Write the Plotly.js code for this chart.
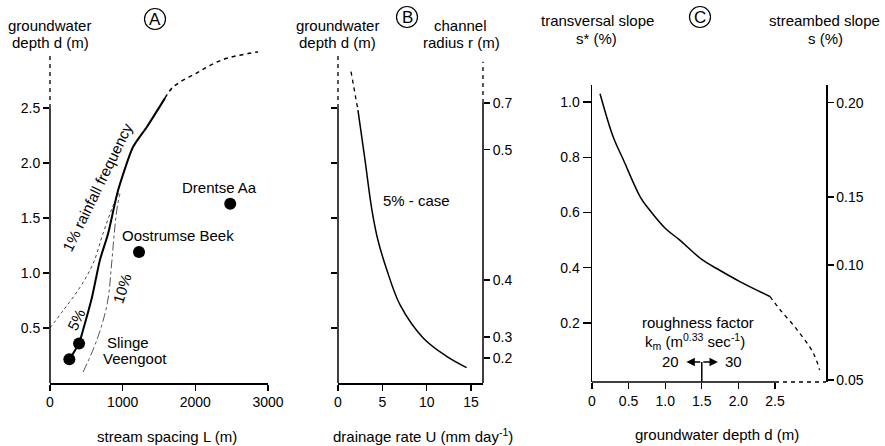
<!DOCTYPE html>
<html><head><meta charset="utf-8">
<script src="https://cdn.plot.ly/plotly-3.0.1.min.js"></script>
<style>html,body{margin:0;padding:0;background:#fff}#chart{width:885px;height:446px}</style>
</head><body><div id="chart"></div>
<script>
// ---------- Panel A: groundwater depth vs stream spacing ----------
const stationNames = ['Drentse Aa', 'Oostrumse Beek', 'Slinge', 'Veengoot'];
const stationL = [2480, 1225, 400, 266];
const stationD = [1.63, 1.19, 0.36, 0.215];
const curve5L = [266, 400, 454, 578, 688, 800, 936, 1142, 1335, 1583];
const curve5D = [0.215, 0.36, 0.48, 0.78, 1.12, 1.36, 1.75, 2.145, 2.33, 2.59];
const curve5ExtL = [1583, 1693, 2023, 2380, 2862];
const curve5ExtD = [2.59, 2.69, 2.82, 2.94, 3.01];
const curve1L = [0, 183, 413, 596, 730, 850, 963];
const curve1D = [0.5, 0.66, 0.87, 1.09, 1.36, 1.58, 1.75];
const curve10L = [456, 650, 790, 850, 890, 930, 963];
const curve10D = [0.1, 0.4, 0.73, 1.1, 1.4, 1.62, 1.72];
const ticksL = [0, 1000, 2000, 3000];
const ticksD = [0.5, 1.0, 1.5, 2.0, 2.5];
const ticksDText = ['0.5', '1.0', '1.5', '2.0', '2.5'];

// ---------- Panel B: groundwater depth vs drainage rate ----------
const rateU = [2.25, 3.04, 3.83, 4.5, 5.5, 7.0, 9.6, 12.3, 14.5];
const rateD = [2.48, 2.03, 1.57, 1.3, 1.03, 0.71, 0.41, 0.24, 0.14];
const rateExtU = [1.47, 2.25];
const rateExtD = [2.83, 2.48];
const ticksU = [0, 5, 10, 15];
const radiusLabels = ['0.7', '0.5', '0.4', '0.3', '0.2'];
const radiusAtDepth = [2.545, 2.12, 0.936, 0.418, 0.227];

// ---------- Panel C: transversal slope vs groundwater depth ----------
const depthC = [0.11, 0.29, 0.43, 0.66, 0.79, 1.0, 1.2, 1.5, 1.75, 2.02, 2.43];
const slopeC = [1.03, 0.873, 0.79, 0.656, 0.608, 0.543, 0.50, 0.43, 0.39, 0.35, 0.296];
const depthCExt = [2.43, 2.57, 2.80, 3.02, 3.11];
const slopeCExt = [0.296, 0.248, 0.176, 0.093, 0.03];
const ticksDepthC = [0, 0.5, 1.0, 1.5, 2.0, 2.5];
const ticksDepthCText = ['0', '0.5', '1.0', '1.5', '2.0', '2.5'];
const ticksSlope = [0.2, 0.4, 0.6, 0.8, 1.0];
const ticksSlopeText = ['0.2', '0.4', '0.6', '0.8', '1.0'];
const streambedLabels = ['0.20', '0.15', '0.10', '0.05'];
const streambedAtSlope = [0.997, 0.656, 0.41, -0.006];

// ---------- layout helpers ----------
const W = 885, H = 446;
const px = x => x / W;
const py = y => 1 - y / H;
const FONT = '"Liberation Sans", Arial, Helvetica, sans-serif';
const BLACK = '#000';
const hidden = {color: 'rgba(0,0,0,0)', width: 0};

const traces = [
  // Panel A
  {x: curve1L, y: curve1D, xaxis: 'x', yaxis: 'y', mode: 'lines', line: {color: '#444', width: 1, dash: 'dot', shape: 'spline'}},
  {x: curve10L, y: curve10D, xaxis: 'x', yaxis: 'y', mode: 'lines', line: {color: '#555', width: 1, dash: 'dashdot', shape: 'spline'}},
  {x: curve5L, y: curve5D, xaxis: 'x', yaxis: 'y', mode: 'lines', line: {color: BLACK, width: 2, shape: 'spline', smoothing: 0.6}},
  {x: curve5ExtL, y: curve5ExtD, xaxis: 'x', yaxis: 'y', mode: 'lines', line: {color: BLACK, width: 1.5, dash: '4px,4px', shape: 'spline'}},
  {x: stationL, y: stationD, xaxis: 'x', yaxis: 'y', mode: 'markers', marker: {color: BLACK, size: 12}},
  // Panel B
  {x: rateU, y: rateD, xaxis: 'x2', yaxis: 'y2', mode: 'lines', line: {color: BLACK, width: 1.5, shape: 'spline'}},
  {x: rateExtU, y: rateExtD, xaxis: 'x2', yaxis: 'y2', mode: 'lines', line: {color: BLACK, width: 1.3, dash: '4px,4px'}},
  {x: rateU, y: rateD, xaxis: 'x2', yaxis: 'y3', mode: 'lines', line: hidden, hoverinfo: 'skip'},
  // Panel C
  {x: depthC, y: slopeC, xaxis: 'x3', yaxis: 'y4', mode: 'lines', line: {color: BLACK, width: 1.5, shape: 'spline'}},
  {x: depthCExt, y: slopeCExt, xaxis: 'x3', yaxis: 'y4', mode: 'lines', line: {color: BLACK, width: 1.3, dash: '4px,4px', shape: 'spline'}},
  {x: depthC, y: slopeC, xaxis: 'x3', yaxis: 'y5', mode: 'lines', line: hidden, hoverinfo: 'skip'}
];

const axBase = {
  showgrid: false, zeroline: false, ticks: 'outside', ticklen: 6, tickwidth: 1.3,
  tickcolor: BLACK, tickfont: {family: FONT, size: 14, color: BLACK},
  linecolor: BLACK, linewidth: 1.5, fixedrange: true
};
const yDomAB = [py(383), py(42)];
const yDomC = [py(382), py(85)];

const layout = {
  width: W, height: H, margin: {l: 0, r: 0, t: 0, b: 0},
  paper_bgcolor: '#fff', plot_bgcolor: 'rgba(0,0,0,0)', showlegend: false,
  font: {family: FONT, size: 15, color: BLACK},
  xaxis: Object.assign({}, axBase, {domain: [px(50), px(268)], range: [0, 3000], tickvals: ticksL, showline: true, anchor: 'y'}),
  yaxis: Object.assign({}, axBase, {domain: yDomAB, range: [0, 3.1], tickvals: ticksD, ticktext: ticksDText, showline: false, anchor: 'x'}),
  xaxis2: Object.assign({}, axBase, {domain: [px(338), px(483)], range: [0, 16.35], tickvals: ticksU, showline: true, anchor: 'y2'}),
  yaxis2: Object.assign({}, axBase, {domain: yDomAB, range: [0, 3.1], tickvals: ticksD, showticklabels: false, showline: false, anchor: 'x2'}),
  yaxis3: Object.assign({}, axBase, {overlaying: 'y2', side: 'right', anchor: 'x2', range: [0, 3.1], tickvals: radiusAtDepth, ticktext: radiusLabels, showline: false}),
  xaxis3: Object.assign({}, axBase, {domain: [px(592), px(826)], range: [0, 3.197], tickvals: ticksDepthC, ticktext: ticksDepthCText, showline: false, anchor: 'y4'}),
  yaxis4: Object.assign({}, axBase, {domain: yDomC, range: [-0.0136, 1.0615], tickvals: ticksSlope, ticktext: ticksSlopeText, showline: true, anchor: 'x3', ticklen: 8}),
  yaxis5: Object.assign({}, axBase, {overlaying: 'y4', side: 'right', anchor: 'x3', range: [-0.0136, 1.0615], tickvals: streambedAtSlope, ticktext: streambedLabels, showline: true}),
  shapes: [],
  annotations: []
};

const solid = {color: BLACK, width: 1.5};
const dashed = {color: BLACK, width: 1.3, dash: '4px,4px'};
const S = layout.shapes;
// Panel A left axis
S.push({type: 'line', xref: 'x domain', yref: 'y', x0: 0, x1: 0, y0: 0, y1: 2.5, line: solid});
S.push({type: 'line', xref: 'x domain', yref: 'y', x0: 0, x1: 0, y0: 2.5, y1: 2.98, line: dashed});
// Panel B axes
S.push({type: 'line', xref: 'x2 domain', yref: 'y2', x0: 0, x1: 0, y0: 0, y1: 2.5, line: solid});
S.push({type: 'line', xref: 'x2 domain', yref: 'y2', x0: 0, x1: 0, y0: 2.5, y1: 3.0, line: dashed});
S.push({type: 'line', xref: 'x2 domain', yref: 'y2', x0: 1, x1: 1, y0: 0, y1: 2.545, line: solid});
S.push({type: 'line', xref: 'x2 domain', yref: 'y2', x0: 1, x1: 1, y0: 2.545, y1: 2.92, line: dashed});
// Panel C bottom axis
S.push({type: 'line', xref: 'x3', yref: 'y4 domain', x0: 0, x1: 2.5, y0: 0, y1: 0, line: solid});
S.push({type: 'line', xref: 'x3', yref: 'y4 domain', x0: 2.5, x1: 3.197, y0: 0, y1: 0, line: dashed});
S.push({type: 'line', xref: 'x3', yref: 'y4', x0: 1.5, x1: 1.5, y0: -0.0136, y1: 0.059, line: solid});
// circled panel letters
function circle(cx, cy, r) {
  S.push({type: 'circle', xref: 'paper', yref: 'paper', x0: px(cx - r), x1: px(cx + r), y0: py(cy + r), y1: py(cy - r), line: {color: BLACK, width: 1.2}});
}
circle(155, 19, 10.5);
circle(407, 17, 10.5);
circle(700, 17, 10.5);

const A = layout.annotations;
function ptext(text, x, y, size, extra) {
  A.push(Object.assign({text: text, xref: 'paper', yref: 'paper', x: px(x), y: py(y), xanchor: 'center', yanchor: 'middle', showarrow: false, font: {family: FONT, size: size || 15, color: BLACK}}, extra || {}));
}
function dtext(text, xr, yr, x, y, extra) {
  A.push(Object.assign({text: text, xref: xr, yref: yr, x: x, y: y, xanchor: 'center', yanchor: 'middle', showarrow: false, font: {family: FONT, size: 15, color: BLACK}}, extra || {}));
}
// titles
ptext('groundwater', 49, 25); ptext('depth d (m)', 50, 42);
ptext('A', 155, 19, 17);
ptext('groundwater', 337, 25); ptext('depth d (m)', 337, 42);
ptext('B', 407, 17, 17);
ptext('channel', 460, 25); ptext('radius r (m)', 461, 42);
ptext('transversal slope', 597, 20); ptext('s* (%)', 596, 38);
ptext('C', 700, 17, 17);
ptext('streambed slope', 824, 20); ptext('s (%)', 825, 38);
ptext('stream spacing L (m)', 167, 436);
ptext('drainage rate U (mm day<sup>-1</sup>)', 423, 435);
ptext('groundwater depth d (m)', 717, 434);
// Panel A labels
dtext(stationNames[0], 'x', 'y', 2339, 1.78);
dtext(stationNames[1], 'x', 'y', 1761, 1.345);
dtext(stationNames[2], 'x', 'y', 1080, 0.364);
dtext(stationNames[3], 'x', 'y', 1163, 0.227);
dtext('1% rainfall frequency', 'x', 'y', 647, 1.78, {textangle: -64});
dtext('5%', 'x', 'y', 358, 0.58, {textangle: -64});
dtext('10%', 'x', 'y', 991, 0.86, {textangle: -72});
// Panel B label
dtext('5% - case', 'x2', 'y2', 8.87, 1.66);
// Panel C labels
dtext('roughness factor', 'x3', 'y4', 1.45, 0.20);
dtext('k<sub>m</sub> (m<sup>0.33</sup> sec<sup>-1</sup>)', 'x3', 'y4', 1.41, 0.132);
dtext('20', 'x3', 'y4', 1.066, 0.059);
dtext('30', 'x3', 'y4', 1.93, 0.059);
A.push({xref: 'x3', yref: 'y4', axref: 'x3', ayref: 'y4', x: 1.29, y: 0.059, ax: 1.5, ay: 0.059, text: '', showarrow: true, arrowhead: 2, arrowsize: 1.2, arrowwidth: 1.4, arrowcolor: BLACK});
A.push({xref: 'x3', yref: 'y4', axref: 'x3', ayref: 'y4', x: 1.72, y: 0.059, ax: 1.5, ay: 0.059, text: '', showarrow: true, arrowhead: 2, arrowsize: 1.2, arrowwidth: 1.4, arrowcolor: BLACK});

Plotly.newPlot('chart', traces, layout, {staticPlot: true, displayModeBar: false});
</script></body></html>
